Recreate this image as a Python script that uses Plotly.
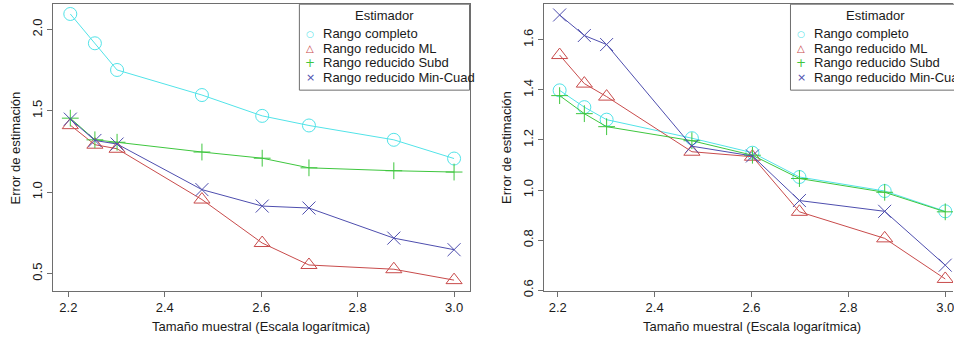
import plotly.graph_objects as go

W, H = 954, 347

# ---- data ----
log_n = [2.204, 2.255, 2.301, 2.477, 2.602, 2.699, 2.875, 3.0]

series_names = ["Rango completo", "Rango reducido ML", "Rango reducido Subd", "Rango reducido Min-Cuad"]

left_completo = [2.095, 1.915, 1.751, 1.597, 1.469, 1.410, 1.322, 1.207]
left_ml = [1.412, 1.292, 1.267, 0.955, 0.688, 0.553, 0.527, 0.460]
left_subd = [1.455, 1.322, 1.307, 1.247, 1.209, 1.150, 1.132, 1.124]
left_mincuad = [1.449, 1.318, 1.296, 1.016, 0.915, 0.903, 0.718, 0.647]

right_completo = [1.398, 1.331, 1.281, 1.207, 1.149, 1.052, 0.996, 0.915]
right_ml = [1.539, 1.425, 1.373, 1.153, 1.133, 0.913, 0.807, 0.645]
right_subd = [1.377, 1.305, 1.253, 1.197, 1.139, 1.046, 0.991, 0.913]
right_mincuad = [1.699, 1.617, 1.581, 1.175, 1.136, 0.958, 0.915, 0.700]

x_ticks = [2.2, 2.4, 2.6, 2.8, 3.0]
x_ticktext = ["2.2", "2.4", "2.6", "2.8", "3.0"]
left_yticks = [0.5, 1.0, 1.5, 2.0]
left_yticktext = ["0.5", "1.0", "1.5", "2.0"]
right_yticks = [0.6, 0.8, 1.0, 1.2, 1.4, 1.6]
right_yticktext = ["0.6", "0.8", "1.0", "1.2", "1.4", "1.6"]

x_title = "Tamaño muestral (Escala logarítmica)"
y_title = "Error de estimación"
legend_title = "Estimador"

# ---- styles ----
colors = ["#52E3E8", "#C84B4B", "#3EC63E", "#4E4EAE"]
symbols = ["circle-open", "triangle-up-open", "cross-thin-open", "x-thin-open"]
sizes = [13, 14, 12, 13]
legend_glyphs = ["○", "△", "+", "×"]
legend_glyph_sizes = [9, 10, 12, 11]
FONT = "Liberation Sans, Arial, sans-serif"
TXT = "#1a1a1a"
LINE = "#6e6e6e"

def px(x):
    return x / W

def py(y):
    return 1 - y / H

fig = go.Figure()

left_data = [left_completo, left_ml, left_subd, left_mincuad]
right_data = [right_completo, right_ml, right_subd, right_mincuad]

for i, vals in enumerate(left_data):
    fig.add_trace(go.Scatter(
        x=log_n, y=vals, mode="lines+markers", name=series_names[i],
        line=dict(color=colors[i], width=1),
        marker=dict(symbol=symbols[i], size=sizes[i], color=colors[i], line=dict(width=1, color=colors[i])),
        xaxis="x", yaxis="y", showlegend=False))
for i, vals in enumerate(right_data):
    fig.add_trace(go.Scatter(
        x=log_n, y=vals, mode="lines+markers", name=series_names[i],
        line=dict(color=colors[i], width=1),
        marker=dict(symbol=symbols[i], size=sizes[i], color=colors[i], line=dict(width=1, color=colors[i])),
        xaxis="x2", yaxis="y2", showlegend=False))

ydom = [py(296.7), py(4.3)]
common_x = dict(showgrid=False, zeroline=False, ticks="outside", ticklen=5, tickcolor=LINE,
                showline=True, linecolor=LINE, linewidth=1, mirror=True,
                tickvals=x_ticks, ticktext=x_ticktext, ticklabeloverflow="allow",
                tickfont=dict(family=FONT, size=13, color=TXT))
common_y = dict(showgrid=False, zeroline=False, ticks="outside", ticklen=5, tickcolor=LINE,
                showline=True, linecolor=LINE, linewidth=1, tickangle=-90,
                tickfont=dict(family=FONT, size=13, color=TXT), domain=ydom)

fig.update_layout(
    width=W, height=H, margin=dict(l=0, r=0, t=0, b=0),
    paper_bgcolor="white", plot_bgcolor="white", showlegend=False,
    xaxis=dict(common_x, domain=[px(53), px(470)], range=[2.168, 3.032], anchor="y"),
    yaxis=dict(common_y, range=[0.395, 2.155], tickvals=left_yticks, ticktext=left_yticktext,
               mirror=True, anchor="x"),
    xaxis2=dict(common_x, domain=[px(544.7), 1], range=[2.172, 3.016], anchor="y2"),
    yaxis2=dict(common_y, range=[0.598, 1.742], tickvals=right_yticks, ticktext=right_yticktext,
                mirror=False, anchor="x2"),
)

annotations = []
shapes = []

def add_titles(xc, ytitle_x):
    annotations.append(dict(text=x_title, x=px(xc), y=py(333), xref="paper", yref="paper",
                            showarrow=False, xanchor="center", yanchor="middle",
                            font=dict(family=FONT, size=13, color=TXT)))
    annotations.append(dict(text=y_title, x=px(ytitle_x), y=py(150.5), xref="paper", yref="paper",
                            showarrow=False, xanchor="center", yanchor="middle", textangle=-90,
                            font=dict(family=FONT, size=13, color=TXT)))

add_titles(261.5, 15)
add_titles(753, 507)

def add_legend(x0, x1, sym_x, text_x):
    shapes.append(dict(type="rect", xref="paper", yref="paper", x0=px(x0), x1=px(x1),
                       y0=py(92), y1=py(4.3), line=dict(color=LINE, width=1), fillcolor="white",
                       layer="above"))
    annotations.append(dict(text=legend_title, x=px((x0 + x1) / 2), y=py(15.5), xref="paper", yref="paper",
                            showarrow=False, xanchor="center", yanchor="middle",
                            font=dict(family=FONT, size=13, color=TXT)))
    ys = [34.7, 49.3, 64.0, 78.8]
    for i in range(4):
        annotations.append(dict(text=legend_glyphs[i], x=px(sym_x), y=py(ys[i]), xref="paper", yref="paper",
                                showarrow=False, xanchor="center", yanchor="middle",
                                font=dict(family="DejaVu Sans", size=legend_glyph_sizes[i], color=colors[i])))
        annotations.append(dict(text=series_names[i], x=px(text_x), y=py(ys[i]), xref="paper", yref="paper",
                                showarrow=False, xanchor="left", yanchor="middle",
                                font=dict(family=FONT, size=13, color=TXT)))

add_legend(299.7, 470, 310.7, 321)
add_legend(791.3, 961.8, 802, 812.5)

fig.update_layout(annotations=annotations, shapes=shapes)

fig.write_html("out.html")
